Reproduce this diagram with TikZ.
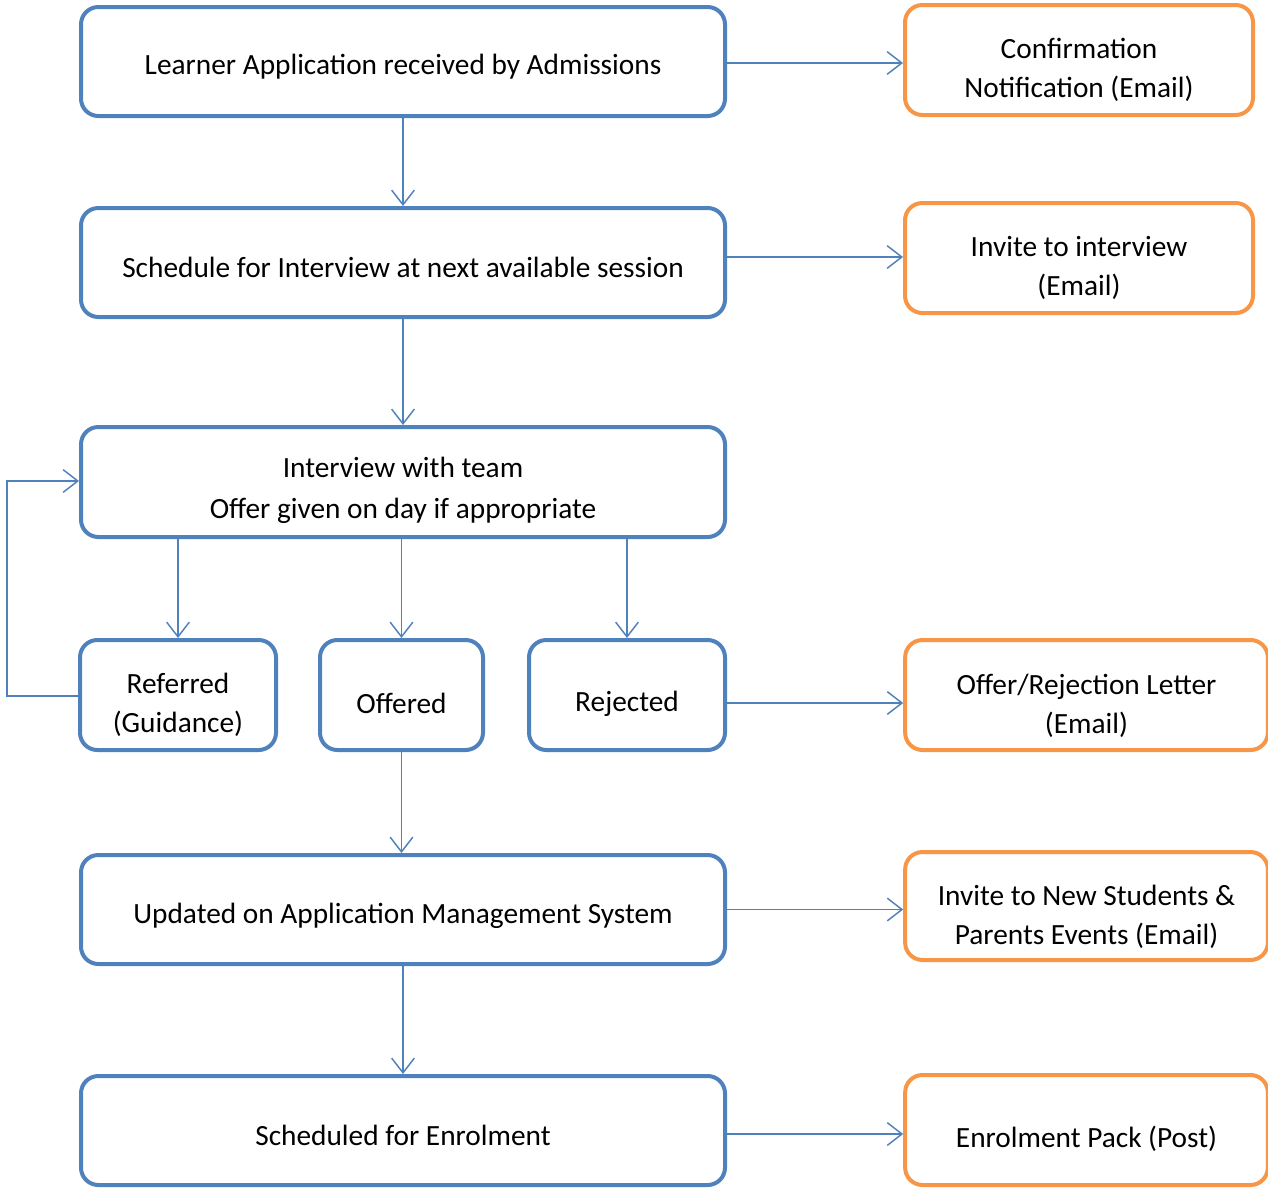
\documentclass[tikz,border=0pt]{standalone}
\usepackage{fontspec}
\setmainfont{Carlito}
\usetikzlibrary{arrows.meta}
\definecolor{boxblue}{HTML}{4F81BD}
\definecolor{boxorange}{HTML}{F79646}
\begin{document}
\begin{tikzpicture}[x=0.75pt,y=-0.75pt,
  every node/.style={inner sep=0pt},
  txt/.style={font=\fontsize{22}{29.5}\selectfont, align=center},
  bluebox/.style={draw=boxblue, line width=3pt, rounded corners=13pt, fill=white},
  orangebox/.style={draw=boxorange, line width=3pt, rounded corners=13pt, fill=white},
  conn/.style={draw=boxblue, line width=1.1pt, -{Straight Barb[length=11pt,width=17pt,line width=1.1pt]}}]
\useasboundingbox (0,0) rectangle (1268,1189);
% main column
\node[bluebox, minimum width=483pt, minimum height=81.75pt] (A) at (403,61.5) {};
\node[txt] (At) at ([yshift=-3.75pt]A.center) {Learner Application received by Admissions};
\node[bluebox, minimum width=483pt, minimum height=81.75pt] (B) at (403,262.5) {};
\node[txt] (Bt) at ([yshift=-3.75pt]B.center) {Schedule for Interview at next available session};
\node[bluebox, minimum width=483pt, minimum height=82.5pt] (C) at (403,482) {};
\node[txt, font=\fontsize{22}{30.75}\selectfont] (Ct) at ([yshift=-6pt]C.center) {Interview with team\\Offer given on day if appropriate};
\node[bluebox, minimum width=147pt, minimum height=82.5pt] (Ref) at (178,695) {};
\node[txt] (Reft) at ([yshift=-7.5pt]Ref.center) {Referred\\(Guidance)};
\node[bluebox, minimum width=122.25pt, minimum height=82.5pt] (Off) at (401.5,695) {};
\node[txt] (Offt) at ([yshift=-6pt]Off.center) {Offered};
\node[bluebox, minimum width=147pt, minimum height=82.5pt] (Rej) at (627,695) {};
\node[txt] (Rejt) at ([yshift=-6.5pt]Rej.center) {Rejected};
\node[bluebox, minimum width=483pt, minimum height=81.75pt] (D) at (403,909.5) {};
\node[txt] (Dt) at ([yshift=-5pt]D.center) {Updated on Application Management System};
\node[bluebox, minimum width=483pt, minimum height=81.75pt] (E) at (403,1130.5) {};
\node[txt] (Et) at ([yshift=-3.75pt]E.center) {Scheduled for Enrolment};
% orange column
\node[orangebox, minimum width=261pt, minimum height=82.5pt] (O1) at (1079,60) {};
\node[txt] (O1t) at ([yshift=-7.5pt]O1.center) {Confirmation\\Notification (Email)};
\node[orangebox, minimum width=261pt, minimum height=82.5pt] (O2) at (1079,258) {};
\node[txt] (O2t) at ([yshift=-7.5pt]O2.center) {Invite to interview\\(Email)};
\node[orangebox, minimum width=272pt, minimum height=82.5pt] (O3) at (1086.5,695) {};
\node[txt] (O3t) at ([yshift=-8pt]O3.center) {Offer/Rejection Letter\\(Email)};
\node[orangebox, minimum width=272pt, minimum height=81pt] (O4) at (1086.5,906) {};
\node[txt] (O4t) at ([yshift=-8pt]O4.center) {Invite to New Students \&\\Parents Events (Email)};
\node[orangebox, minimum width=272pt, minimum height=82.5pt] (O5) at (1086.5,1130) {};
\node[txt] (O5t) at ([yshift=-6.5pt]O5.center) {Enrolment Pack (Post)};
% vertical connectors
\draw[conn] (A.south) -- (B.north);
\draw[conn] (B.south) -- (C.north);
\draw[conn] (C.south -| Ref.north) -- (Ref.north);
\draw[conn] (C.south -| Off.north) -- (Off.north);
\draw[conn] (C.south -| Rej.north) -- (Rej.north);
\draw[conn] (Off.south) -- (Off.south |- D.north);
\draw[conn] (D.south) -- (E.north);
% horizontal connectors
\coordinate (a1) at (0,63);
\draw[conn] (A.east |- a1) -- (O1.west |- a1);
\coordinate (b1) at (0,257);
\draw[conn] (B.east |- b1) -- (O2.west |- b1);
\coordinate (r1) at (0,703);
\draw[conn] (Rej.east |- r1) -- (O3.west |- r1);
\draw[conn] (D.east) -- (D.east -| O4.west);
\coordinate (e1) at (0,1134);
\draw[conn] (E.east |- e1) -- (O5.west |- e1);
% loop back
\coordinate (lp1) at (7,696);
\coordinate (lp2) at (7,481);
\draw[conn] (Ref.west |- lp1) -- (lp1) -- (lp2) -- (C.west |- lp2);
\end{tikzpicture}
\end{document}
